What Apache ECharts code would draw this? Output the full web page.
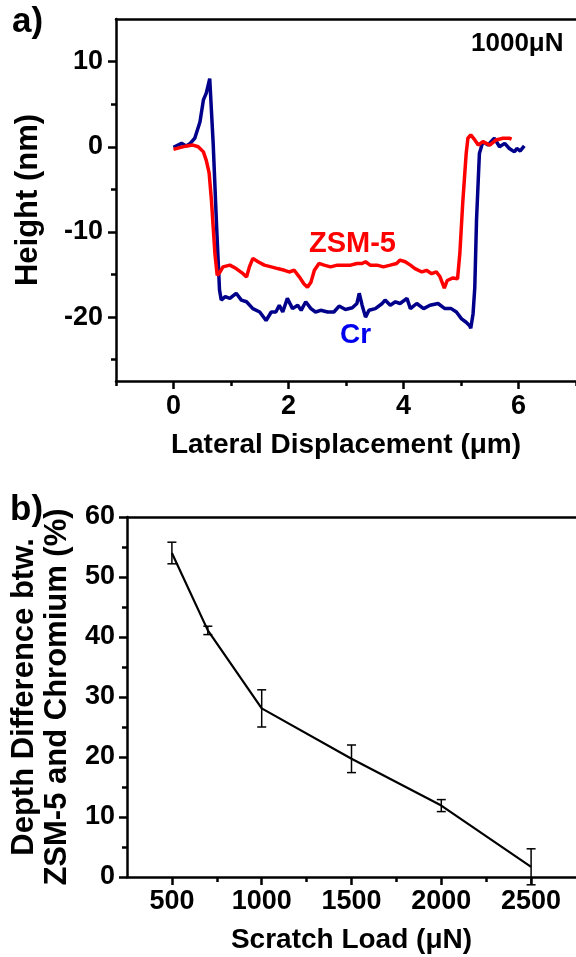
<!DOCTYPE html>
<html>
<head>
<meta charset="utf-8">
<script src="https://cdn.jsdelivr.net/npm/echarts@6/dist/echarts.min.js"></script>
<style>
  html, body { margin: 0; padding: 0; background: #fff; }
  #chart { width: 576px; height: 957px; }
</style>
</head>
<body>
<div id="chart"></div>
<script>
// panel a) profiles at 1000 uN
const crDisp = [0, 0.14, 0.22, 0.29, 0.37, 0.46, 0.52, 0.57, 0.63, 0.69, 0.75, 0.80, 0.83, 0.90, 0.98,
  1.09, 1.18, 1.27, 1.38, 1.50, 1.61, 1.70, 1.78, 1.84, 1.90, 1.98, 2.07, 2.16, 2.22, 2.30, 2.39,
  2.47, 2.56, 2.68, 2.79, 2.88, 2.99, 3.11, 3.19, 3.23, 3.28, 3.34, 3.40, 3.51, 3.63, 3.68, 3.77,
  3.86, 3.94, 4.06, 4.12, 4.23, 4.35, 4.46, 4.60, 4.72, 4.83, 4.92, 5.01, 5.09, 5.15, 5.17, 5.21,
  5.24, 5.27, 5.30, 5.32, 5.38, 5.47, 5.58, 5.67, 5.76, 5.84, 5.93, 5.97, 6.03, 6.10];
const crHeight = [-0.07, 0.4, 0.1, 0.4, 1.0, 2.9, 5.5, 6.3, 8.0, 0.4, -9.4, -16.8, -18.0, -17.6, -17.8,
  -17.2, -18.0, -18.2, -19.0, -19.4, -20.4, -19.4, -19.4, -18.6, -19.4, -17.8, -19.0, -18.6, -19.2, -18.2, -19.0,
  -19.4, -19.2, -19.4, -19.4, -18.7, -19.1, -18.9, -18.4, -17.2, -18.6, -20.0, -19.2, -19.0, -18.4, -18.0, -18.6,
  -18.2, -18.4, -17.8, -19.0, -18.4, -19.0, -18.6, -18.4, -19.0, -19.0, -19.4, -20.2, -20.6, -21.0, -21.3, -19.6,
  -16.5, -8.6, -3.9, -0.8, 0.6, 0.2, 1.0, 0.0, 0.4, -0.2, -0.6, -0.2, -0.5, 0.1];

const zsmDisp = [0, 0.11, 0.23, 0.34, 0.43, 0.52, 0.57, 0.62, 0.66, 0.69, 0.72, 0.76, 0.80, 0.86, 0.98,
  1.09, 1.21, 1.27, 1.32, 1.38, 1.47, 1.58, 1.70, 1.81, 1.93, 2.01, 2.10, 2.19, 2.27, 2.33, 2.39,
  2.45, 2.53, 2.62, 2.73, 2.85, 2.96, 3.08, 3.19, 3.28, 3.34, 3.42, 3.54, 3.65, 3.77, 3.88, 3.94,
  4.03, 4.12, 4.20, 4.32, 4.40, 4.49, 4.57, 4.63, 4.71, 4.76, 4.86, 4.94, 4.98, 5.03, 5.09, 5.12,
  5.17, 5.24, 5.30, 5.38, 5.50, 5.61, 5.73, 5.84, 5.88];
const zsmHeight = [-0.3, -0.1, 0.1, 0.2, 0, -0.6, -1.6, -3.1, -6.3, -9.4, -12.5, -15.1, -14.8, -14.1, -13.9,
  -14.3, -14.9, -15.3, -14.1, -13.1, -13.5, -13.9, -14.1, -14.3, -14.5, -14.7, -14.5, -15.3, -16.1, -16.5, -15.9,
  -14.5, -13.7, -13.9, -14.1, -13.9, -13.9, -13.9, -13.7, -13.7, -13.5, -13.9, -13.9, -14.1, -13.9, -13.7, -13.3,
  -13.5, -13.9, -14.3, -14.7, -14.5, -14.9, -14.7, -15.2, -16.6, -15.7, -15.4, -15.5, -12.5, -6.6, -0.8, 1.0,
  1.4, 0.8, 0.2, 0.6, 0.2, 0.8, 1.0, 1.0, 0.9];

// panel b) depth difference vs load
const loads = [500, 700, 1000, 1500, 2000, 2500];
const depthDiff = [54.0, 41.1, 28.1, 19.7, 11.9, 1.7];
const depthErr = [1.8, 0.7, 3.1, 2.3, 1.0, 3.0];

const dispTicks = [0, 2, 4, 6];
const dispMinor = [-1, 1, 3, 5, 7];
const heightTicks = [-20, -10, 0, 10];
const heightMinor = [-25, -15, -5, 5];
const loadTicks = [500, 1000, 1500, 2000, 2500];
const loadMinor = [750, 1250, 1750, 2250];
const depthTicks = [0, 10, 20, 30, 40, 50, 60];
const depthMinor = [5, 15, 25, 35, 45, 55];

const FONT = "'Liberation Sans', Arial, sans-serif";
const zip = (a, b) => a.map((v, i) => [v, b[i]]);

const axisLine = { show: true, onZero: false, lineStyle: { color: '#000', width: 2.5 } };
const tickLabel = { color: '#000', fontFamily: FONT, fontWeight: 'bold', fontSize: 27, formatter: v => String(v) };
const nameH = { color: '#000', fontFamily: FONT, fontWeight: 'bold', fontSize: 28 };
const nameV = { color: '#000', fontFamily: FONT, fontWeight: 'bold', fontSize: 31 };

function mainAxis(gridIndex, min, max, ticks, margin, extra) {
  return Object.assign({
    type: 'value', gridIndex, min, max,
    axisLine,
    axisTick: { show: true, customValues: ticks, length: 8, lineStyle: { color: '#000', width: 2.5 } },
    axisLabel: Object.assign({ customValues: ticks, margin }, tickLabel),
    splitLine: { show: false }
  }, extra);
}
function minorAxis(gridIndex, min, max, ticks, position) {
  return {
    type: 'value', gridIndex, min, max, position,
    axisLine: { show: false, onZero: false },
    axisTick: { show: true, customValues: ticks, length: 5, lineStyle: { color: '#000', width: 2.5 } },
    axisLabel: { show: false },
    splitLine: { show: false }
  };
}
function frameAxis(gridIndex, min, max, position) {
  return {
    type: 'value', gridIndex, min, max, position,
    axisLine, axisTick: { show: false }, axisLabel: { show: false }, splitLine: { show: false }
  };
}

const chart = echarts.init(document.getElementById('chart'));

const option = {
  animation: false,
  backgroundColor: '#fff',
  grid: [
    { left: 116, top: 19, right: -3, height: 362 },
    { left: 127, top: 517, right: -4, height: 360 }
  ],
  xAxis: [
    mainAxis(0, -1, 7, dispTicks, 12, {
      position: 'bottom',
      name: 'Lateral Displacement (μm)', nameLocation: 'middle', nameGap: 50, nameTextStyle: nameH
    }),
    minorAxis(0, -1, 7, dispMinor, 'bottom'),
    frameAxis(0, -1, 7, 'top'),
    mainAxis(1, 250, 2750, loadTicks, 11, {
      position: 'bottom',
      name: 'Scratch Load (μN)', nameLocation: 'middle', nameGap: 49, nameTextStyle: nameH
    }),
    minorAxis(1, 250, 2750, loadMinor, 'bottom'),
    frameAxis(1, 250, 2750, 'top')
  ],
  yAxis: [
    mainAxis(0, -27.5, 15, heightTicks, 13, {
      position: 'left',
      name: 'Height (nm)', nameLocation: 'middle', nameGap: 72, nameTextStyle: nameV
    }),
    minorAxis(0, -27.5, 15, heightMinor, 'left'),
    mainAxis(1, 0, 60, depthTicks, 12, {
      position: 'left',
      name: 'Depth Difference btw.\nZSM-5 and Chromium (%)', nameLocation: 'middle', nameGap: 50,
      nameTextStyle: Object.assign({ lineHeight: 33 }, nameV)
    }),
    minorAxis(1, 0, 60, depthMinor, 'left')
  ],
  series: [
    {
      name: 'Cr', type: 'line', xAxisIndex: 0, yAxisIndex: 0,
      data: zip(crDisp, crHeight), showSymbol: false, symbol: 'none',
      lineStyle: { color: '#00008b', width: 3.5 }, z: 3
    },
    {
      name: 'ZSM-5', type: 'line', xAxisIndex: 0, yAxisIndex: 0,
      data: zip(zsmDisp, zsmHeight), showSymbol: false, symbol: 'none',
      lineStyle: { color: '#ff0000', width: 3.5 }, z: 4
    },
    {
      name: 'Depth difference', type: 'line', xAxisIndex: 3, yAxisIndex: 2,
      data: zip(loads, depthDiff), showSymbol: false, symbol: 'none',
      lineStyle: { color: '#000', width: 2.2 }
    },
    {
      name: 'Error', type: 'custom', xAxisIndex: 3, yAxisIndex: 2,
      data: loads.map((x, i) => [x, depthDiff[i] - depthErr[i], depthDiff[i] + depthErr[i]]),
      renderItem: function (params, api) {
        const lo = api.coord([api.value(0), api.value(1)]);
        const hi = api.coord([api.value(0), api.value(2)]);
        const w = 4.5;
        const style = { stroke: '#000', lineWidth: 1.5 };
        return {
          type: 'group',
          children: [
            { type: 'line', shape: { x1: hi[0], y1: hi[1], x2: lo[0], y2: lo[1] }, style },
            { type: 'line', shape: { x1: hi[0] - w, y1: hi[1], x2: hi[0] + w, y2: hi[1] }, style },
            { type: 'line', shape: { x1: lo[0] - w, y1: lo[1], x2: lo[0] + w, y2: lo[1] }, style }
          ]
        };
      },
      z: 5
    }
  ],
  graphic: [
    { type: 'text', left: 12, top: 5, style: { text: 'a)', font: 'bold 35px ' + FONT, fill: '#000' } },
    { type: 'text', left: 10, top: 493, style: { text: 'b)', font: 'bold 35px ' + FONT, fill: '#000' } },
    { type: 'text', left: 471, top: 31, style: { text: '1000μN', font: 'bold 26px ' + FONT, fill: '#000' } },
    { type: 'text', left: 309, top: 229, style: { text: 'ZSM-5', font: 'bold 29px ' + FONT, fill: '#ff0000' } },
    { type: 'text', left: 340, top: 321, style: { text: 'Cr', font: 'bold 28px ' + FONT, fill: '#0000ee' } }
  ]
};

chart.setOption(option);
window.addEventListener('resize', () => chart.resize());
</script>
</body>
</html>
